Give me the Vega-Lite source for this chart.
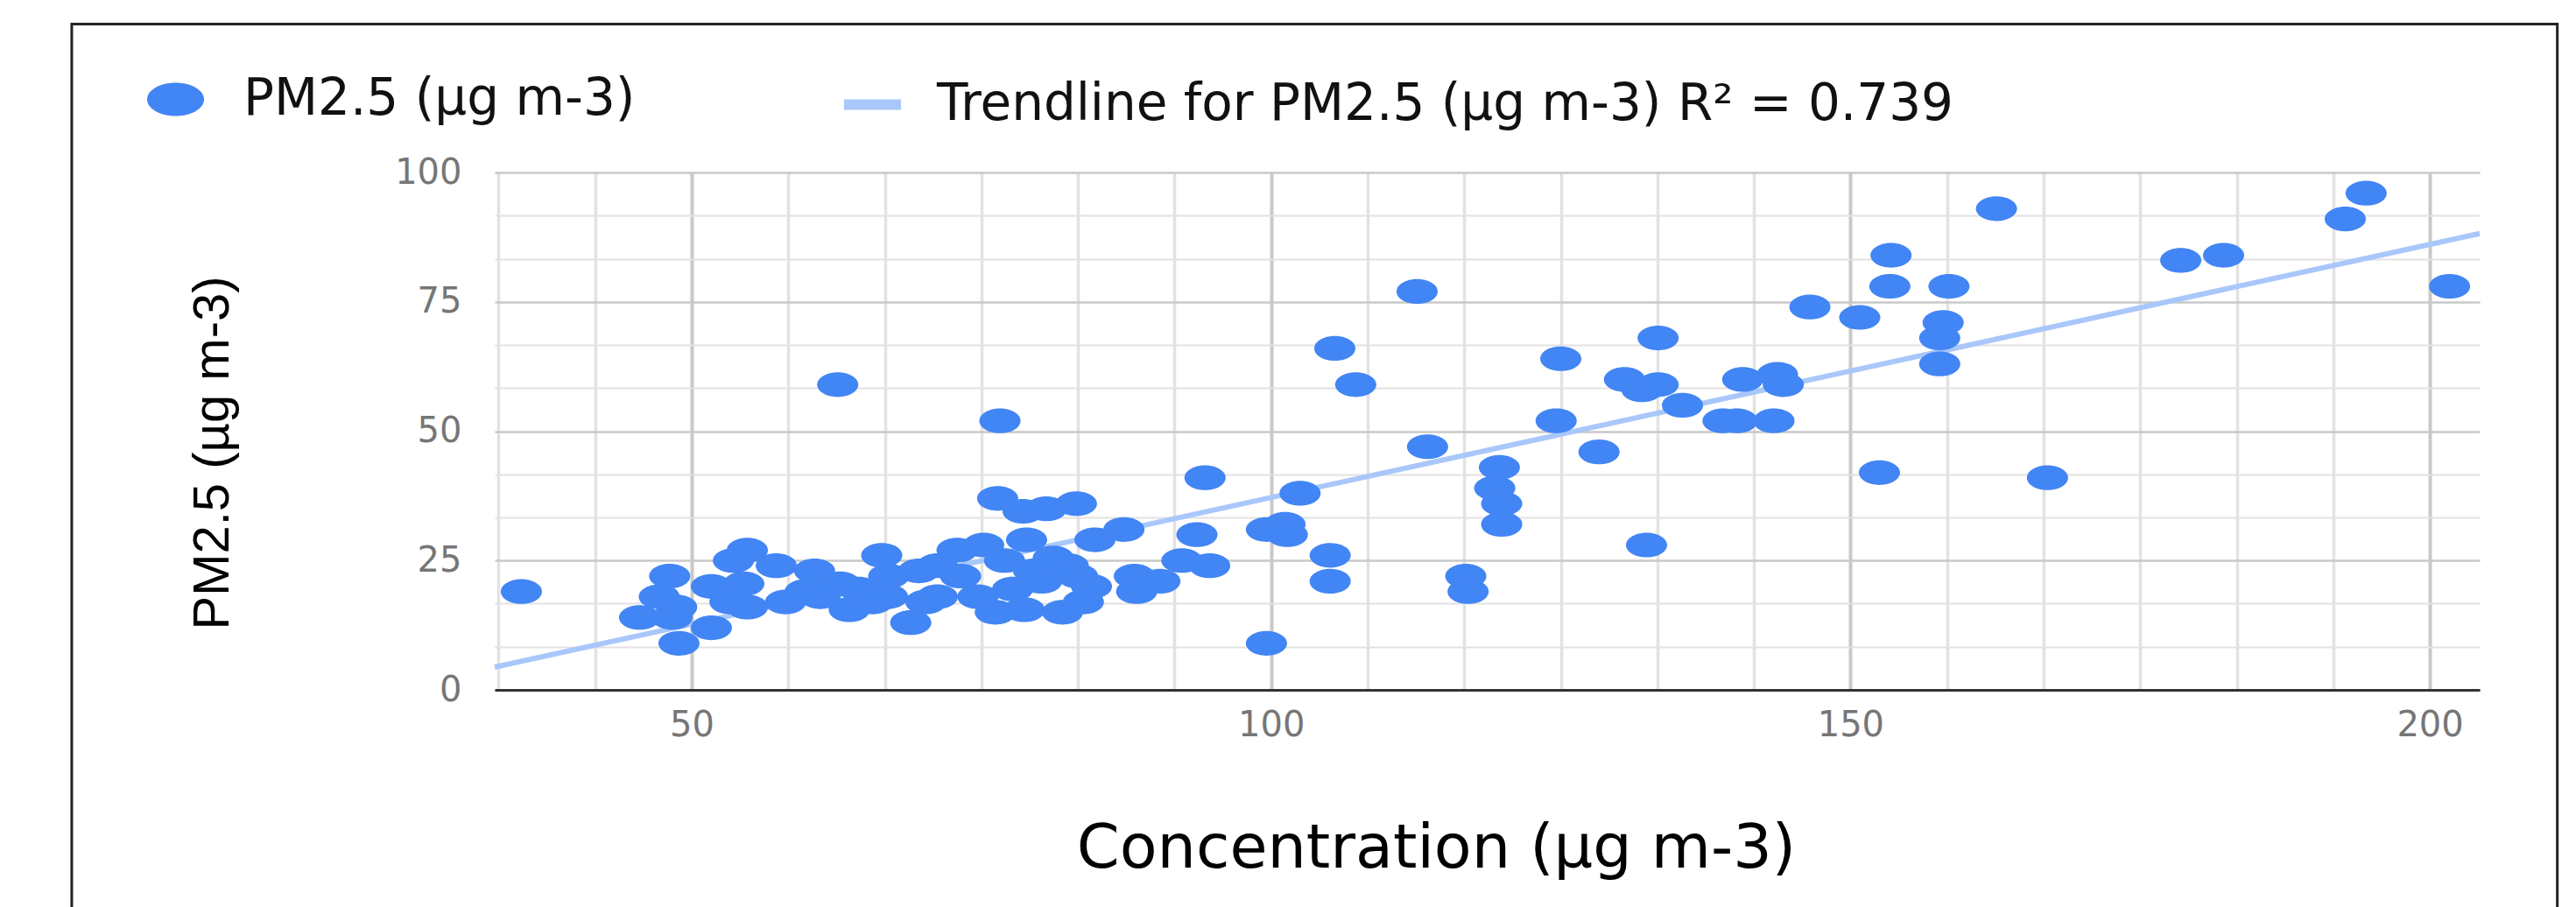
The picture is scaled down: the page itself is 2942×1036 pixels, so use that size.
{
  "$schema": "https://vega.github.io/schema/vega-lite/v6.json",
  "width": 2267,
  "height": 591,
  "autosize": {"type": "none"},
  "padding": {"left": 565, "top": 197, "right": 110, "bottom": 248},
  "background": "white",
  "config": {"view": {"stroke": null}},
  "datasets": {
    "points": [
      {"conc": 35.3, "pm": 19}, {"conc": 45.5, "pm": 14}, {"conc": 47.2, "pm": 18}, {"conc": 48.1, "pm": 22},
      {"conc": 48.7, "pm": 16}, {"conc": 48.3, "pm": 14}, {"conc": 48.9, "pm": 9}, {"conc": 51.7, "pm": 12},
      {"conc": 51.7, "pm": 20}, {"conc": 53.6, "pm": 25}, {"conc": 54.8, "pm": 27}, {"conc": 54.5, "pm": 20.5},
      {"conc": 53.3, "pm": 17}, {"conc": 54.8, "pm": 16}, {"conc": 57.3, "pm": 24}, {"conc": 58.1, "pm": 17},
      {"conc": 59.8, "pm": 19}, {"conc": 60.6, "pm": 23}, {"conc": 61.1, "pm": 18}, {"conc": 62.8, "pm": 20.5},
      {"conc": 64.4, "pm": 19.5}, {"conc": 63.6, "pm": 15.5}, {"conc": 65.6, "pm": 17}, {"conc": 66.4, "pm": 26},
      {"conc": 67, "pm": 22}, {"conc": 66.9, "pm": 18}, {"conc": 68.9, "pm": 13}, {"conc": 69.6, "pm": 23},
      {"conc": 70.2, "pm": 17}, {"conc": 71.2, "pm": 24}, {"conc": 71.2, "pm": 18}, {"conc": 72.9, "pm": 27},
      {"conc": 75.2, "pm": 28}, {"conc": 73.2, "pm": 22}, {"conc": 74.7, "pm": 18}, {"conc": 76.2, "pm": 15},
      {"conc": 77, "pm": 25}, {"conc": 77.7, "pm": 19.5}, {"conc": 78.7, "pm": 15.5}, {"conc": 79.5, "pm": 23},
      {"conc": 80.2, "pm": 21}, {"conc": 81.2, "pm": 25.5}, {"conc": 82.5, "pm": 24}, {"conc": 82, "pm": 15},
      {"conc": 83.3, "pm": 22}, {"conc": 83.8, "pm": 17}, {"conc": 84.5, "pm": 20}, {"conc": 78.9, "pm": 29},
      {"conc": 76.4, "pm": 37}, {"conc": 78.6, "pm": 34.5}, {"conc": 80.6, "pm": 35}, {"conc": 83.2, "pm": 36},
      {"conc": 84.8, "pm": 29}, {"conc": 87.3, "pm": 31}, {"conc": 88.2, "pm": 22}, {"conc": 88.4, "pm": 19},
      {"conc": 90.4, "pm": 21}, {"conc": 92.3, "pm": 25}, {"conc": 93.6, "pm": 30}, {"conc": 94.3, "pm": 41},
      {"conc": 94.7, "pm": 24}, {"conc": 99.6, "pm": 31}, {"conc": 101.2, "pm": 32}, {"conc": 101.4, "pm": 30},
      {"conc": 102.5, "pm": 38}, {"conc": 99.6, "pm": 9}, {"conc": 105.1, "pm": 26}, {"conc": 105.1, "pm": 21},
      {"conc": 105.5, "pm": 66}, {"conc": 107.3, "pm": 59}, {"conc": 112.6, "pm": 77}, {"conc": 113.5, "pm": 47},
      {"conc": 116.8, "pm": 22}, {"conc": 117, "pm": 19}, {"conc": 119.7, "pm": 43}, {"conc": 119.3, "pm": 39},
      {"conc": 119.9, "pm": 36}, {"conc": 119.9, "pm": 32}, {"conc": 124.6, "pm": 52}, {"conc": 125, "pm": 64},
      {"conc": 128.3, "pm": 46}, {"conc": 130.5, "pm": 60}, {"conc": 132, "pm": 58}, {"conc": 133.4, "pm": 59},
      {"conc": 133.4, "pm": 68}, {"conc": 132.4, "pm": 28}, {"conc": 135.5, "pm": 55}, {"conc": 139.0, "pm": 52},
      {"conc": 140.2, "pm": 52}, {"conc": 143.4, "pm": 52}, {"conc": 140.7, "pm": 60}, {"conc": 143.7, "pm": 61},
      {"conc": 144.2, "pm": 59}, {"conc": 146.5, "pm": 74}, {"conc": 150.8, "pm": 72}, {"conc": 152.5, "pm": 42},
      {"conc": 153.4, "pm": 78}, {"conc": 153.5, "pm": 84}, {"conc": 157.7, "pm": 68}, {"conc": 157.7, "pm": 63},
      {"conc": 158, "pm": 71}, {"conc": 158.5, "pm": 78}, {"conc": 162.6, "pm": 93}, {"conc": 167, "pm": 41},
      {"conc": 178.5, "pm": 83}, {"conc": 182.2, "pm": 84}, {"conc": 192.7, "pm": 91}, {"conc": 194.5, "pm": 96},
      {"conc": 201.7, "pm": 78}, {"conc": 76.6, "pm": 52}, {"conc": 62.6, "pm": 59}
    ],
    "trend": [
      {"conc": 33, "pm": 4.4},
      {"conc": 204.3, "pm": 88.2}
    ]
  },
  "layer": [
    {
      "data": {"values": [{}]},
      "mark": {"type": "rect", "fill": "transparent", "stroke": "#222222", "strokeWidth": 3},
      "encoding": {
        "x": {"datum": -3.5, "type": "quantitative", "scale": {"domain": [33, 204.3], "nice": false, "zero": false}},
        "x2": {"datum": 211},
        "y": {"datum": 128.7, "type": "quantitative", "scale": {"domain": [0, 100], "nice": false}},
        "y2": {"datum": -60}
      }
    },
    {
      "data": {"name": "trend"},
      "mark": {"type": "line", "strokeWidth": 6},
      "encoding": {
        "x": {"field": "conc", "type": "quantitative", "scale": {"domain": [33, 204.3], "nice": false, "zero": false}},
        "y": {"field": "pm", "type": "quantitative", "scale": {"domain": [0, 100], "nice": false}},
        "stroke": {
          "datum": "Trendline for PM2.5 (µg m-3) R² = 0.739",
          "scale": {"range": ["#a9c7fa"]},
          "legend": {
            "title": null, "orient": "none", "direction": "horizontal", "legendX": 393, "legendY": -116,
            "symbolType": "stroke", "symbolSize": 4225, "symbolStrokeWidth": 12, "symbolStrokeColor": "#a9c7fa",
            "labelFont": "DejaVu Sans", "labelFontSize": 58,
            "labelColor": "#111111", "labelLimit": 3000, "labelOffset": 35, "padding": 0
          }
        }
      }
    },
    {
      "data": {"name": "points"},
      "mark": {"type": "point", "filled": true, "shape": "M-1,0A1,0.6,0,1,0,1,0A1,0.6,0,1,0,-1,0Z", "size": 2209, "opacity": 1, "strokeWidth": 0},
      "encoding": {
        "x": {
          "field": "conc", "type": "quantitative",
          "scale": {"domain": [33, 204.3], "nice": false, "zero": false},
          "axis": {
            "title": "Concentration (µg m-3)",
            "values": [33.3333, 41.6667, 50, 58.3333, 66.6667, 75, 83.3333, 91.6667, 100, 108.3333, 116.6667, 125, 133.3333, 141.6667, 150, 158.3333, 166.6667, 175, 183.3333, 191.6667, 200],
            "labelExpr": "datum.value % 50 == 0 ? datum.label : ''",
            "labelFont": "DejaVu Sans", "labelFontSize": 40, "labelColor": "#767676", "labelPadding": 20,
            "labelOverlap": false, "labelFlush": false, "labelBound": false,
            "ticks": false, "domain": true, "domainColor": "#333333", "domainWidth": 3,
            "grid": true,
            "gridColor": {"condition": {"test": "datum.value % 50 == 0", "value": "#c9c9c9"}, "value": "#e2e2e2"},
            "gridWidth": {"condition": {"test": "datum.value % 50 == 0", "value": 4}, "value": 3.5},
            "titleFont": "DejaVu Sans", "titleFontSize": 70, "titleFontWeight": "normal", "titleColor": "#000000",
            "titleX": 1075, "titleY": 202, "titleBaseline": "alphabetic", "titleAlign": "center"
          }
        },
        "y": {
          "field": "pm", "type": "quantitative",
          "scale": {"domain": [0, 100], "nice": false},
          "axis": {
            "title": "PM2.5 (µg m-3)",
            "values": [0, 4.1667, 8.3333, 12.5, 16.6667, 20.8333, 25, 29.1667, 33.3333, 37.5, 41.6667, 45.8333, 50, 54.1667, 58.3333, 62.5, 66.6667, 70.8333, 75, 79.1667, 83.3333, 87.5, 91.6667, 95.8333, 100],
            "labelExpr": "datum.value % 25 == 0 ? datum.label : ''",
            "labelFont": "DejaVu Sans", "labelFontSize": 40, "labelColor": "#767676", "labelPadding": 38,
            "labelOverlap": false, "labelBound": false, "labelFlush": false,
            "ticks": false, "domain": false,
            "grid": true,
            "gridColor": {"condition": {"test": "datum.value % 25 == 0", "value": "#c9c9c9"}, "value": "#e2e2e2"},
            "gridWidth": {"condition": {"test": "datum.value % 25 == 0", "value": 2.6}, "value": 2.2},
            "titleFont": "Liberation Sans", "titleFontSize": 58,
            "titleFontWeight": "normal", "titleColor": "#000000",
            "titleX": -305, "titleY": 320, "titleAngle": 270, "titleBaseline": "alphabetic", "titleAlign": "center"
          }
        },
        "fill": {
          "datum": "PM2.5 (µg m-3)",
          "scale": {"range": ["#4285f4"]},
          "legend": {
            "title": null, "orient": "none", "direction": "horizontal", "legendX": -397, "legendY": -116,
            "symbolType": "M-1,0A1,0.585,0,1,0,1,0A1,0.585,0,1,0,-1,0Z",
            "symbolSize": 4225, "symbolStrokeWidth": 0, "symbolFillColor": "#4285f4",
            "labelFont": "DejaVu Sans", "labelFontSize": 58,
            "labelColor": "#111111", "labelLimit": 3000, "labelOffset": 45, "padding": 0
          }
        }
      }
    }
  ]
}
